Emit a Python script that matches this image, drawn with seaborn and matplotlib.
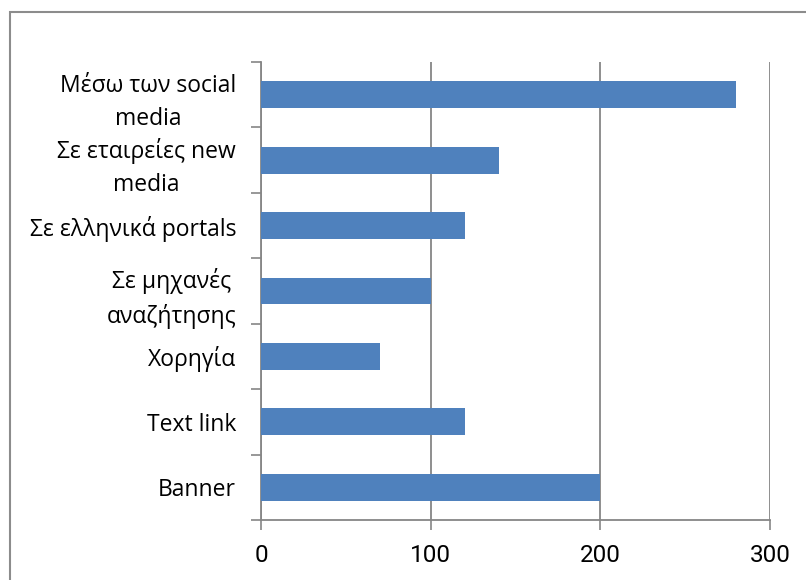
import matplotlib
matplotlib.use("Agg")
import matplotlib.pyplot as plt
import seaborn as sns
import pandas as pd
import numpy as np
from matplotlib.patches import Rectangle

categories = [
    "Μέσω των social\nmedia",
    "Σε εταιρείες new\nmedia",
    "Σε ελληνικά portals",
    "Σε μηχανές\nαναζήτησης",
    "Χορηγία",
    "Text link",
    "Banner",
]
values = [280, 140, 120, 100, 70, 120, 200]
x_ticks = [0, 100, 200, 300]

sns.set_style("white")
plt.rcParams["font.family"] = ["Open Sans", "DejaVu Sans"]
plt.rcParams["text.color"] = "black"
plt.rcParams["xtick.color"] = "black"
plt.rcParams["ytick.color"] = "black"

df = pd.DataFrame({"category": categories, "value": values})

fig = plt.figure(figsize=(8.06, 5.80), dpi=100)
W, H = 806, 580
ax = fig.add_axes([261 / W, 1 - 520 / H, (770 - 261) / W, (520 - 62) / H])

grid_col = "#868686"
sns.barplot(data=df, x="value", y="category", orient="h", color="#4F81BD",
            width=0.41, saturation=1, linewidth=0, ax=ax, zorder=3)

ax.set_xlim(0, 300)
ax.set_ylim(len(categories) - 0.5, -0.5)
ax.set_xticks(x_ticks)
ax.set_xticklabels([str(t) for t in x_ticks], fontsize=17.5,
                   family=["Roboto", "DejaVu Sans"])
ax.tick_params(axis="x", bottom=True, length=7, width=1.2, color=grid_col,
               labelcolor="black", pad=10, direction="out")
ax.tick_params(axis="y", which="major", left=True, length=0, pad=18,
               labelcolor="black")
ax.set_yticks(np.arange(-0.5, len(categories), 1.0), minor=True)
ax.tick_params(axis="y", which="minor", left=True, length=7, width=1.2,
               color=grid_col, direction="out")
for lbl in ax.get_yticklabels():
    lbl.set_fontsize(16.5)
    lbl.set_multialignment("center")
    lbl.set_linespacing(1.5)

ax.grid(axis="x", color=grid_col, linewidth=1.3, zorder=0)
ax.set_axisbelow(True)
ax.set_xlabel("")
ax.set_ylabel("")
for side in ["top", "right"]:
    ax.spines[side].set_visible(False)
for side in ["left", "bottom"]:
    ax.spines[side].set_color(grid_col)
    ax.spines[side].set_linewidth(1.3)

# outer chart frame
fig.patches.append(Rectangle((10 / W, -0.1), 1.2, 1 - 12 / H + 0.1,
                             transform=fig.transFigure, fill=False,
                             edgecolor="#8c8c8c", linewidth=1.5))

fig.savefig("out.png", dpi=100)
